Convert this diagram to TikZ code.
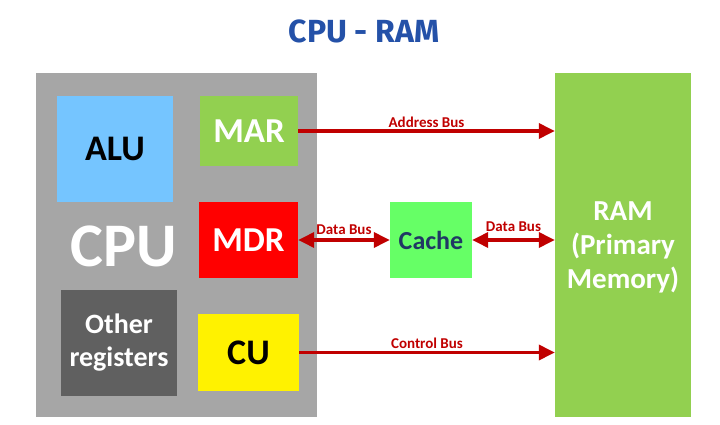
\documentclass[tikz,border=0pt]{standalone}
\usepackage{fontspec}
\setmainfont{Carlito}
\newfontfamily\titlefont{Fira Sans}
\usetikzlibrary{arrows.meta}

\definecolor{cpugrey}{HTML}{A6A6A6}
\definecolor{alublue}{HTML}{75C5FF}
\definecolor{regreen}{HTML}{92D050}
\definecolor{othergrey}{HTML}{606060}
\definecolor{cachegreen}{HTML}{66FF66}
\definecolor{cacheblue}{HTML}{203864}
\definecolor{busred}{HTML}{C00000}
\definecolor{titleblue}{HTML}{2451A8}

\tikzset{
	unit/.style={inner sep=0pt, align=center, font=\bfseries},
	bus/.style={busred, line width=3.5pt, -{Triangle[length=16pt, width=15pt]}},
	dbus/.style={bus, {Triangle[length=16pt, width=15pt]}-{Triangle[length=16pt, width=15pt]}},
	buslabel/.style={busred, font=\fontsize{15}{15}\selectfont\bfseries, inner sep=1pt}
}

\begin{document}
\begin{tikzpicture}[x=1pt, y=-1pt]
	\useasboundingbox (0, 0) rectangle (720, 425);

	% title
	\node[text=titleblue, font=\fontsize{32}{32}\selectfont\titlefont\bfseries] (title) at (364, 31) {CPU - RAM};

	% cpu and its parts
	\node[unit, fill=cpugrey, minimum width=281, minimum height=344] (cpubox) at (176.5, 245) {};
	\node[unit, fill=alublue, minimum width=116, minimum height=106, font=\fontsize{36}{36}\selectfont\bfseries] (alu) at (115, 149) {ALU};
	\node[unit, fill=regreen, text=white, minimum width=98, minimum height=70, font=\fontsize{35}{35}\selectfont\bfseries] (mar) at (249, 131) {MAR};
	\node[unit, fill=red, text=white, minimum width=99, minimum height=76, font=\fontsize{35}{35}\selectfont\bfseries] (mdr) at (248.5, 240) {MDR};
	\node[unit, text=white, font=\fontsize{62}{62}\selectfont\bfseries] (cpu) at (124, 246) {CPU};
	\node[unit, fill=othergrey, text=white, minimum width=116, minimum height=106, font=\fontsize{28}{33}\selectfont\bfseries] (other) at (119, 343) {Other\\registers};
	\node[unit, fill=yellow, minimum width=101, minimum height=77, font=\fontsize{36}{36}\selectfont\bfseries] (cu) at (248.5, 352.5) {CU};

	% cache and ram
	\node[unit, fill=cachegreen, text=cacheblue, minimum width=82, minimum height=76, font=\fontsize{26}{26}\selectfont\bfseries] (cache) at (431, 240) {Cache};
	\node[unit, fill=regreen, text=white, minimum width=136, minimum height=344, text depth=0pt, font=\fontsize{29}{34}\selectfont\bfseries] (ram) at (623, 245) {RAM\\(Primary\\Memory)};

	% buses
	\draw[bus] (mar.east) -- (mar.east -| ram.west) node[midway, above, buslabel, yshift=1pt] {Address Bus};
	\draw[dbus] (mdr.east) -- (cache.west) node[midway, above, buslabel, yshift=3pt] {Data Bus};
	\draw[dbus] (cache.east) -- (cache.east -| ram.west) node[midway, above, buslabel, yshift=6pt] {Data Bus};
	\draw[bus] (cu.east) -- (cu.east -| ram.west) node[midway, above, buslabel, yshift=1pt] {Control Bus};
\end{tikzpicture}
\end{document}
